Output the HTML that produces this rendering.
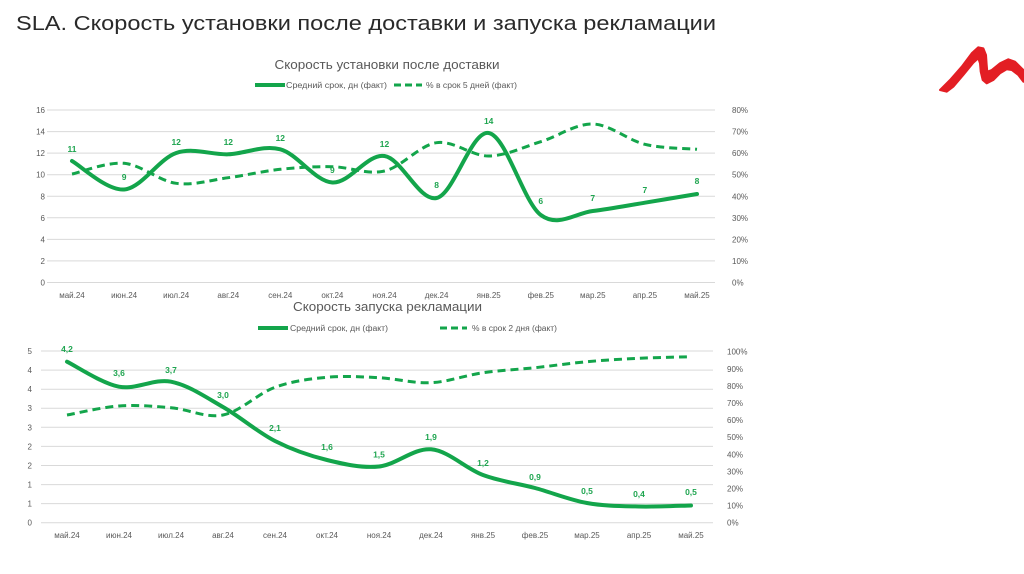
<!DOCTYPE html>
<html><head><meta charset="utf-8"><style>
html,body{margin:0;padding:0;background:#fff;width:1024px;height:574px;overflow:hidden}
svg{display:block}
.t{font-family:"Liberation Sans",sans-serif;fill:#595959;font-size:8px}
.dl{font-family:"Liberation Sans",sans-serif;fill:#1fa550;font-size:8.5px;font-weight:bold;text-anchor:middle}
.g{stroke:#d9d9d9;stroke-width:1}
</style></head><body>
<svg width="1024" height="574" viewBox="0 0 1024 574" xmlns="http://www.w3.org/2000/svg">
<rect width="1024" height="574" fill="#fff"/>
<text x="16" y="30" font-family="Liberation Sans, sans-serif" font-size="20" fill="#2a2a2a" textLength="700" lengthAdjust="spacingAndGlyphs">SLA. Скорость установки после доставки и запуска рекламации</text>
<polygon fill="#e31e24" stroke="#e31e24" stroke-width="2" stroke-linejoin="round" points="940,90 950,80 961.7,66.7 971.7,53.3 978.3,47.3 983.3,48.3 986,55 986.7,65 987.3,71.7 991.7,70 1000,63.3 1008.3,59.3 1015,61.7 1021.7,68.3 1026.7,73.3 1026.7,81.7 1023.3,81.7 1018.3,75 1011.7,70 1006.7,69.3 1000,73.3 993.3,80 986.7,83.3 982.7,80 980.7,71.7 980,63.3 978.3,58.3 973.3,62.7 963.3,75 953.3,86.7 946.7,91.7"/>

<!-- TOP CHART -->
<text x="387" y="69" text-anchor="middle" font-family="Liberation Sans, sans-serif" font-size="12.5" fill="#595959" textLength="225" lengthAdjust="spacingAndGlyphs">Скорость установки после доставки</text>
<line x1="255" y1="85" x2="285" y2="85" stroke="#13a54b" stroke-width="4"/>
<text class="t" x="286" y="88" textLength="101" lengthAdjust="spacingAndGlyphs">Средний срок, дн (факт)</text>
<line x1="394" y1="85" x2="422" y2="85" stroke="#13a54b" stroke-width="3" stroke-dasharray="7 4"/>
<text class="t" x="426" y="88" textLength="91" lengthAdjust="spacingAndGlyphs">% в срок 5 дней (факт)</text>
<g class="g">
<line x1="47" y1="110" x2="715" y2="110"/><line x1="47" y1="131.6" x2="715" y2="131.6"/><line x1="47" y1="153.1" x2="715" y2="153.1"/><line x1="47" y1="174.7" x2="715" y2="174.7"/><line x1="47" y1="196.3" x2="715" y2="196.3"/><line x1="47" y1="217.8" x2="715" y2="217.8"/><line x1="47" y1="239.4" x2="715" y2="239.4"/><line x1="47" y1="260.9" x2="715" y2="260.9"/><line x1="47" y1="282.5" x2="715" y2="282.5"/>
</g>
<g class="t" text-anchor="end">
<text x="45" y="113">16</text><text x="45" y="134.6">14</text><text x="45" y="156.1">12</text><text x="45" y="177.7">10</text><text x="45" y="199.3">8</text><text x="45" y="220.8">6</text><text x="45" y="242.4">4</text><text x="45" y="263.9">2</text><text x="45" y="285.5">0</text>
</g>
<g class="t">
<text x="732" y="113">80%</text><text x="732" y="134.6">70%</text><text x="732" y="156.1">60%</text><text x="732" y="177.7">50%</text><text x="732" y="199.3">40%</text><text x="732" y="220.8">30%</text><text x="732" y="242.4">20%</text><text x="732" y="263.9">10%</text><text x="732" y="285.5">0%</text>
</g>
<g class="t" text-anchor="middle">
<text x="72" y="298">май.24</text><text x="124.1" y="298">июн.24</text><text x="176.2" y="298">июл.24</text><text x="228.3" y="298">авг.24</text><text x="280.3" y="298">сен.24</text><text x="332.4" y="298">окт.24</text><text x="384.5" y="298">ноя.24</text><text x="436.6" y="298">дек.24</text><text x="488.7" y="298">янв.25</text><text x="540.8" y="298">фев.25</text><text x="592.8" y="298">мар.25</text><text x="644.9" y="298">апр.25</text><text x="697" y="298">май.25</text>
</g>
<path fill="none" stroke="#13a54b" stroke-width="3" stroke-dasharray="8 5" d="M72,174 C80.7,172.22 106.7,161.75 124.1,163.3 C141.5,164.85 158.8,180.9 176.2,183.3 C193.6,185.7 210.9,180.03 228.3,177.7 C245.7,175.37 262.9,171.13 280.3,169.3 C297.7,167.47 315,166.42 332.4,166.7 C349.8,166.98 367.1,175 384.5,171 C401.9,167 419.2,145.2 436.6,142.7 C454,140.2 471.3,156.17 488.7,156 C506.1,155.83 523.4,147.03 540.8,141.7 C558.2,136.37 575.4,123.57 592.8,124 C610.2,124.43 627.5,140.08 644.9,144.3 C662.3,148.52 688.3,148.47 697,149.3"/>
<path fill="none" stroke="#13a54b" stroke-width="4" stroke-linecap="round" d="M72,161 C80.7,165.75 106.7,190.83 124.1,189.5 C141.5,188.17 158.8,158.87 176.2,153 C193.6,147.13 210.9,154.92 228.3,154.3 C245.7,153.68 262.9,144.6 280.3,149.3 C297.7,154 315,181.38 332.4,182.5 C349.8,183.62 367.1,153.42 384.5,156 C401.9,158.58 419.2,201.83 436.6,198 C454,194.17 471.3,130.17 488.7,133 C506.1,135.83 523.4,202 540.8,215 C558.2,228 575.4,213.05 592.8,211 C610.2,208.95 627.5,205.53 644.9,202.7 C662.3,199.87 688.3,195.45 697,194"/>
<g class="dl">
<text x="72" y="152">11</text><text x="124.1" y="180">9</text><text x="176.2" y="145">12</text><text x="228.3" y="145">12</text><text x="280.3" y="141">12</text><text x="332.4" y="173">9</text><text x="384.5" y="147">12</text><text x="436.6" y="188">8</text><text x="488.7" y="124">14</text><text x="540.8" y="204">6</text><text x="592.8" y="201">7</text><text x="644.9" y="193">7</text><text x="697" y="184">8</text>
</g>

<!-- BOTTOM CHART -->
<text x="387.5" y="311" text-anchor="middle" font-family="Liberation Sans, sans-serif" font-size="12.5" fill="#595959" textLength="189" lengthAdjust="spacingAndGlyphs">Скорость запуска рекламации</text>
<line x1="258" y1="328" x2="288" y2="328" stroke="#13a54b" stroke-width="4"/>
<text class="t" x="290" y="331" textLength="98" lengthAdjust="spacingAndGlyphs">Средний срок, дн (факт)</text>
<line x1="440" y1="328" x2="467" y2="328" stroke="#13a54b" stroke-width="3" stroke-dasharray="7 4"/>
<text class="t" x="472" y="331" textLength="85" lengthAdjust="spacingAndGlyphs">% в срок 2 дня (факт)</text>
<g class="g">
<line x1="41" y1="351" x2="713" y2="351"/><line x1="41" y1="370.1" x2="713" y2="370.1"/><line x1="41" y1="389.2" x2="713" y2="389.2"/><line x1="41" y1="408.2" x2="713" y2="408.2"/><line x1="41" y1="427.3" x2="713" y2="427.3"/><line x1="41" y1="446.4" x2="713" y2="446.4"/><line x1="41" y1="465.5" x2="713" y2="465.5"/><line x1="41" y1="484.6" x2="713" y2="484.6"/><line x1="41" y1="503.6" x2="713" y2="503.6"/><line x1="41" y1="522.7" x2="713" y2="522.7"/>
</g>
<g class="t" text-anchor="end">
<text x="32" y="354">5</text><text x="32" y="373.1">4</text><text x="32" y="392.2">4</text><text x="32" y="411.2">3</text><text x="32" y="430.3">3</text><text x="32" y="449.4">2</text><text x="32" y="468.5">2</text><text x="32" y="487.6">1</text><text x="32" y="506.6">1</text><text x="32" y="525.7">0</text>
</g>
<g class="t">
<text x="727" y="354.7">100%</text><text x="727" y="371.8">90%</text><text x="727" y="388.9">80%</text><text x="727" y="406">70%</text><text x="727" y="423.1">60%</text><text x="727" y="440.2">50%</text><text x="727" y="457.3">40%</text><text x="727" y="474.4">30%</text><text x="727" y="491.5">20%</text><text x="727" y="508.6">10%</text><text x="727" y="525.7">0%</text>
</g>
<g class="t" text-anchor="middle">
<text x="67" y="538">май.24</text><text x="119" y="538">июн.24</text><text x="171" y="538">июл.24</text><text x="223" y="538">авг.24</text><text x="275" y="538">сен.24</text><text x="327" y="538">окт.24</text><text x="379" y="538">ноя.24</text><text x="431" y="538">дек.24</text><text x="483" y="538">янв.25</text><text x="535" y="538">фев.25</text><text x="587" y="538">мар.25</text><text x="639" y="538">апр.25</text><text x="691" y="538">май.25</text>
</g>
<path fill="none" stroke="#13a54b" stroke-width="3" stroke-dasharray="8 5" d="M67,415 C75.7,413.5 101.7,407.22 119,406 C136.3,404.78 153.7,406.2 171,407.7 C188.3,409.2 205.7,418.4 223,415 C240.3,411.6 257.7,393.58 275,387.3 C292.3,381.02 309.7,378.9 327,377.3 C344.3,375.7 361.7,376.8 379,377.7 C396.3,378.6 413.7,383.53 431,382.7 C448.3,381.87 465.7,375.2 483,372.7 C500.3,370.2 517.7,369.53 535,367.7 C552.3,365.87 569.7,363.27 587,361.7 C604.3,360.13 621.7,359.13 639,358.3 C656.3,357.47 682.3,356.97 691,356.7"/>
<path fill="none" stroke="#13a54b" stroke-width="4" stroke-linecap="round" d="M67,361.7 C75.7,365.87 101.7,383.37 119,386.7 C136.3,390.03 153.7,378.32 171,381.7 C188.3,385.08 205.7,397.12 223,407 C240.3,416.88 257.7,432.17 275,441 C292.3,449.83 309.7,455.75 327,460 C344.3,464.25 361.7,468.28 379,466.5 C396.3,464.72 413.7,447.88 431,449.3 C448.3,450.72 465.7,468.55 483,475 C500.3,481.45 517.7,483.33 535,488 C552.3,492.67 569.7,499.92 587,503 C604.3,506.08 621.7,506.08 639,506.5 C656.3,506.92 682.3,505.67 691,505.5"/>
<g class="dl">
<text x="67" y="352">4,2</text><text x="119" y="376">3,6</text><text x="171" y="373">3,7</text><text x="223" y="398">3,0</text><text x="275" y="431">2,1</text><text x="327" y="450">1,6</text><text x="379" y="457.7">1,5</text><text x="431" y="440">1,9</text><text x="483" y="466">1,2</text><text x="535" y="480">0,9</text><text x="587" y="494">0,5</text><text x="639" y="497">0,4</text><text x="691" y="495">0,5</text>
</g>
</svg>
</body></html>
